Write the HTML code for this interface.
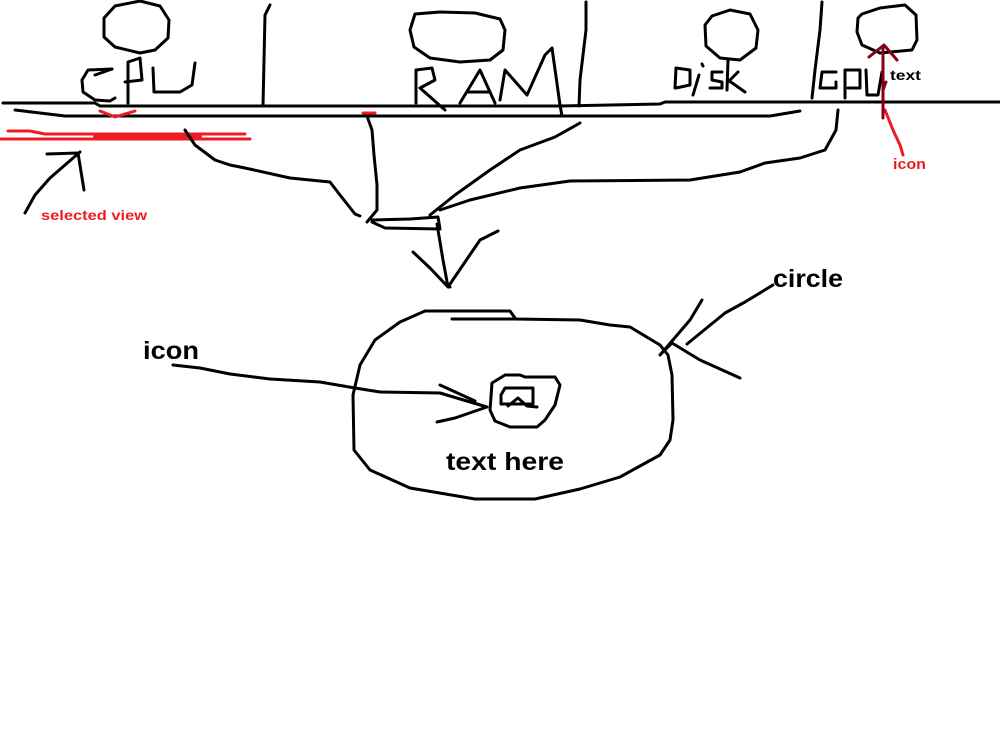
<!DOCTYPE html>
<html><head><meta charset="utf-8"><style>
html,body{margin:0;padding:0;background:#fff;width:1000px;height:750px;overflow:hidden}
svg{display:block}
text{font-family:"Liberation Sans",sans-serif;font-weight:bold}
</style></head><body>
<svg width="1000" height="750" viewBox="0 0 1000 750" fill="none" stroke="#000" stroke-width="3" stroke-linecap="round" stroke-linejoin="round">
<path d="M3,103 L95,103 L100,106 L500,106 L560,106 L660,104 L665,102 L1000,102"/>
<path d="M15,110 L65,116 L770,116 L800,111"/>
<path d="M270,5 L265,15 L263,106"/>
<path d="M586,2 L586,30 L580,80 L579,106"/>
<path d="M822,2 L820,30 L815,70 L812,98"/>
<path d="M115,6 L140,1 L160,6 L169,20 L168,38 L155,50 L140,53 L115,47 L104,37 L104,18 Z"/>
<path d="M415,14 L440,12 L475,13 L500,19 L505,30 L503,50 L490,60 L460,62 L430,58 L414,47 L410,30 Z"/>
<path d="M712,16 L730,10 L750,14 L758,30 L756,48 L740,60 L720,58 L706,46 L705,25 Z"/>
<path d="M862,14 L880,8 L905,5 L916,15 L917,40 L912,50 L880,53 L862,45 L857,32 L858,18 Z"/>
<path d="M112,69 L88,70 L82,80 L83,92 L95,100 L110,101 L115,98"/>
<path d="M95,75 L112,69"/>
<path d="M128,103 L128,62 L140,58 L142,80 L125,82"/>
<path d="M153,68 L154,92 L180,92 L192,85 L195,63"/>
<path d="M416,103 L416,70 L432,68 L435,80 L420,88 L445,110"/>
<path d="M460,103 L480,70 L495,103 M467,92 L490,92"/>
<path d="M500,100 L505,70 L527,95 L545,55 L552,48 L560,105 L562,116"/>
<path d="M675,88 L676,68 L690,70 L690,85 L676,88"/>
<path d="M699,75 L693,95 M702,64 L703,66"/>
<path d="M722,72 L712,72 L712,80 L722,82 L722,88 L710,88"/>
<path d="M728,60 L727,90 M728,80 L745,92 M728,82 L738,72"/>
<path d="M836,72 L822,72 L820,88 L836,88 L836,82"/>
<path d="M845,98 L845,70 L860,70 L860,88 L848,88"/>
<path d="M866,70 L867,95 L878,95 L882,72"/>
<path d="M0,139 L250,139 M8,131 L30,131 L45,134 L245,134 M100,111 L115,117 L135,111 M363,113 L375,113" stroke="#ed1c24"/>
<path d="M95,136 L200,136" stroke="#ed1c24" stroke-width="4"/>
<path d="M25,213 L35,195 L50,178 L65,165 L80,152 M47,154 L78,153 L84,190"/>
<path d="M185,130 L195,145 L215,160 L230,165 L245,168 L290,178 L330,182 L340,195 L355,214 L360,216"/>
<path d="M367,116 L372,130 L374,155 L377,185 L377,210 L367,222"/>
<path d="M372,222 L385,228 L440,229 L438,217 L410,219 L372,220"/>
<path d="M580,123 L555,137 L520,150 L490,170 L455,195 L430,215"/>
<path d="M838,110 L836,130 L825,150 L800,158 L765,163 L740,172 L690,180 L570,181 L520,188 L470,200 L440,210"/>
<path d="M437,224 L443,260 L448,287 L450,287 M413,252 L430,268 L448,287 L465,262 L480,240 L498,231"/>
<path d="M452,319 L515,319 L580,320 L610,325 L630,327 L660,345 L668,355 L672,375 L673,420 L670,440 L660,455 L620,477 L580,489 L535,499 L475,499 L410,488 L370,470 L354,450 L353,395 L360,365 L375,340 L400,322 L425,311 L510,311 L515,318"/>
<path d="M492,383 L505,375 L520,375 L525,377 L555,377 L560,385 L555,405 L545,420 L537,427 L510,427 L495,421 L490,410 Z"/>
<path d="M505,388 L533,388 L533,404 L501,404 L501,395 Z M508,406 L518,398 L527,406 L537,407"/>
<path d="M173,365 L200,368 L230,374 L270,379 L320,382 L355,388 L380,392 L440,393 L487,407 M440,385 L475,401 M437,422 L455,418 L487,407"/>
<path d="M773,285 L745,302 L725,313 L687,344 M702,300 L690,320 L660,355 L672,343 L700,360 L740,378"/>
<path d="M885,110 L893,130 L900,145 L903,155" stroke="#ed1c24"/>
<path d="M883,118 L883,48 M869,57 L884,45 L897,60 M883,90 L886,82" stroke="#880015"/>
<g stroke="none">
<text x="41" y="220" font-size="14" fill="#ed1c24" textLength="106" lengthAdjust="spacingAndGlyphs">selected view</text>
<text x="893" y="169" font-size="15" fill="#ed1c24" textLength="33" lengthAdjust="spacingAndGlyphs">icon</text>
<text x="890" y="80" font-size="14" fill="#000" textLength="31" lengthAdjust="spacingAndGlyphs">text</text>
<text x="143" y="359" font-size="25" fill="#000" textLength="56" lengthAdjust="spacingAndGlyphs">icon</text>
<text x="773" y="287" font-size="25" fill="#000" textLength="70" lengthAdjust="spacingAndGlyphs">circle</text>
<text x="446" y="470" font-size="25" fill="#000" textLength="118" lengthAdjust="spacingAndGlyphs">text here</text>
</g>
</svg>
</body></html>
